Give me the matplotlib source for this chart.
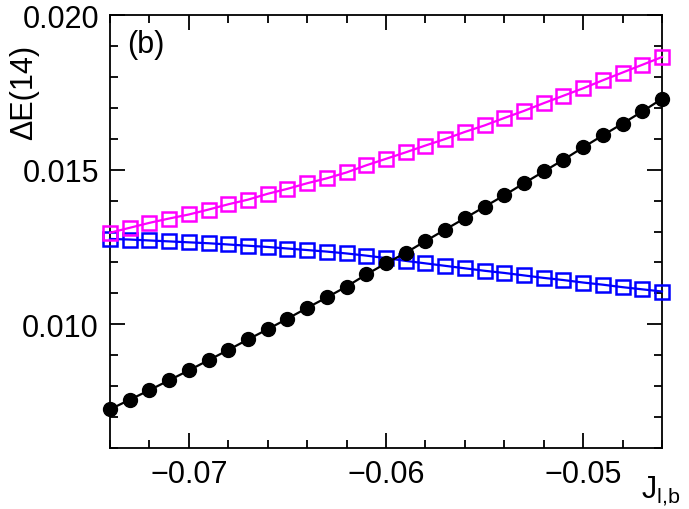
import numpy as np
import matplotlib
matplotlib.use("Agg")
import matplotlib.pyplot as plt
from matplotlib.ticker import MultipleLocator

plt.rcParams['font.family'] = ['Liberation Sans', 'DejaVu Sans']
plt.rcParams['mathtext.fontset'] = 'custom'
plt.rcParams['mathtext.rm'] = 'Liberation Sans'
plt.rcParams['mathtext.it'] = 'Liberation Sans:italic'

# J_l,b values (step 0.001)
j_vals = [-0.074, -0.073, -0.072, -0.071, -0.070, -0.069, -0.068, -0.067,
          -0.066, -0.065, -0.064, -0.063, -0.062, -0.061, -0.060, -0.059,
          -0.058, -0.057, -0.056, -0.055, -0.054, -0.053, -0.052, -0.051,
          -0.050, -0.049, -0.048, -0.047, -0.046]

black_vals = [0.00725, 0.00756, 0.00787, 0.00819, 0.00851, 0.00884, 0.00917,
              0.00951, 0.00984, 0.01018, 0.01053, 0.01087, 0.01122, 0.01161,
              0.01197, 0.01231, 0.01269, 0.01306, 0.01343, 0.01380, 0.01417,
              0.01456, 0.01494, 0.01532, 0.01572, 0.01611, 0.01649, 0.01688,
              0.01729]

magenta_vals = [0.01296, 0.01312, 0.01328, 0.01342, 0.01355, 0.01371, 0.01388,
                0.01403, 0.01422, 0.01438, 0.01456, 0.01472, 0.01491, 0.01514,
                0.01535, 0.01556, 0.01578, 0.01599, 0.01622, 0.01643, 0.01667,
                0.01690, 0.01715, 0.01739, 0.01763, 0.01789, 0.01814, 0.01839,
                0.01864]

blue_vals = [0.01276, 0.01274, 0.01271, 0.01268, 0.01265, 0.01262, 0.01258,
             0.01254, 0.01250, 0.01245, 0.01240, 0.01235, 0.01229, 0.01222,
             0.01214, 0.01205, 0.01197, 0.01189, 0.01181, 0.01173, 0.01166,
             0.01158, 0.01150, 0.01143, 0.01135, 0.01128, 0.01120, 0.01113,
             0.01106]

x_ticks = [-0.07, -0.06, -0.05]
x_tick_labels = ["\u22120.07", "\u22120.06", "\u22120.05"]
y_ticks = [0.010, 0.015, 0.020]
y_tick_labels = ["0.010", "0.015", "0.020"]

fig = plt.figure(figsize=(6.89, 5.10), dpi=100)
ax = fig.add_axes([110 / 689, 1 - 449 / 510, 552 / 689, 433 / 510])

ax.plot(j_vals, blue_vals, color="#0000ff", lw=1.6, marker="s", ms=10,
        mfc="none", mec="#0000ff", mew=1.8, clip_on=False, zorder=3)
ax.plot(j_vals, magenta_vals, color="#ff00ff", lw=1.6, marker="s", ms=10,
        mfc="none", mec="#ff00ff", mew=1.8, clip_on=False, zorder=3)
ax.plot(j_vals, black_vals, color="black", lw=1.6, marker="o", ms=10,
        mfc="black", mec="black", clip_on=False, zorder=4)

ax.set_xlim(-0.074, -0.046)
ax.set_ylim(0.006, 0.020)
ax.set_xticks(x_ticks)
ax.set_xticklabels(x_tick_labels)
ax.set_yticks(y_ticks)
ax.set_yticklabels(y_tick_labels)
ax.xaxis.set_minor_locator(MultipleLocator(0.002))
ax.yaxis.set_minor_locator(MultipleLocator(0.001))

ax.tick_params(which="both", direction="in", top=True, right=True,
               labelsize=22, width=1.3)
ax.tick_params(which="major", length=11, pad=8)
ax.tick_params(which="minor", length=6)
for sp in ax.spines.values():
    sp.set_linewidth(1.3)

fig.text(24 / 689, 1 - 92 / 510, "\u0394E(14)", rotation=90,
         ha="center", va="center", fontsize=22)
ax.text(127 / 689, 1 - 45 / 510, "(b)", transform=fig.transFigure,
        ha="left", va="center", fontsize=22)
fig.text(641 / 689, 1 - 491 / 510, r"J$_{\mathrm{l{,}b}}$",
         ha="left", va="center", fontsize=22)

fig.savefig("out.png", dpi=100)
